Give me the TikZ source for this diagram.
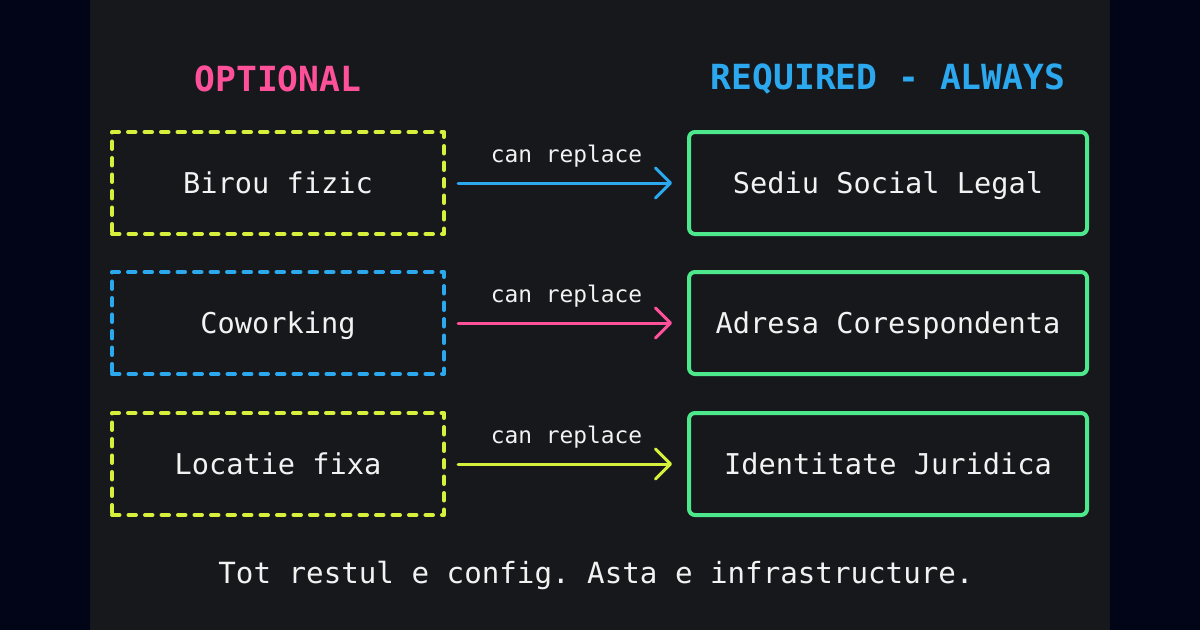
\documentclass[tikz,border=0pt]{standalone}
\usepackage{fontspec}
\setmonofont{DejaVu Sans Mono}
\usetikzlibrary{arrows.meta,positioning,calc}
\definecolor{night}{RGB}{2,4,24}
\definecolor{panel}{RGB}{22,24,28}
\definecolor{ink}{RGB}{242,242,242}
\definecolor{lime}{RGB}{214,240,60}
\definecolor{sky}{RGB}{44,168,238}
\definecolor{rose}{RGB}{255,80,154}
\definecolor{mint}{RGB}{78,232,140}
\tikzset{
  every picture/.style={line width=0.5pt, font=\ttfamily},
  opt/.style={draw, dash pattern=on 0.15cm off 0.18cm, line cap=round, line join=round, line width=0.08cm,
    minimum width=6.64cm, minimum height=2.04cm, text=ink, text depth=0pt,
    font=\ttfamily\fontsize{16.3}{19}\selectfont},
  req/.style={draw=mint, rounded corners=0.12cm, line width=0.08cm,
    minimum width=7.96cm, minimum height=2.04cm, text=ink, text depth=0pt,
    font=\ttfamily\fontsize{16.3}{19}\selectfont},
  swap/.style={-{Straight Barb[length=0.3cm,width=0.6cm,line cap=round,line join=round]},
    line width=0.06cm, line cap=round, shorten <=0.24cm, shorten >=0.3cm},
  lbl/.style={text=ink, text depth=0pt, font=\ttfamily\fontsize{13}{15}\selectfont},
  head/.style={font=\ttfamily\bfseries\fontsize{19.7}{23}\selectfont},
  note/.style={text=ink, font=\ttfamily\fontsize{16.6}{19}\selectfont},
}

\begin{document}
\begin{tikzpicture}
  % backdrop: dark margins, lighter panel in the middle
  \fill[night] (0,0) rectangle (24,-12.6);
  \fill[panel] (1.8,0) rectangle (22.2,-12.6);

  \node[opt, draw=lime] (b1) at (5.56,-3.66) {Birou fizic};
  \node[opt, draw=sky, below=0.68cm of b1] (b2) {Coworking};
  \node[opt, draw=lime, below=0.7cm of b2] (b3) {Locatie fixa};
  \node[req, right=4.82cm of b1] (s1) {Sediu Social Legal};
  \node[req, right=4.82cm of b2] (s2) {Adresa Corespondenta};
  \node[req, right=4.82cm of b3] (s3) {Identitate Juridica};

  \coordinate (top) at (0,-1.58);
  \node[head, text=rose] (hopt) at (b1 |- top) {OPTIONAL};
  \node[head, text=sky] (hreq) at (s1 |- top) {REQUIRED - ALWAYS};

  \draw[swap, sky] (b1) -- node[lbl, midway, yshift=0.58cm] {can replace} (s1);
  \draw[swap, rose] (b2) -- node[lbl, midway, yshift=0.58cm] {can replace} (s2);
  \draw[swap, lime] (b3) -- node[lbl, midway, yshift=0.58cm] {can replace} (s3);

  \node[note] (foot) at (11.92,-11.5) {Tot restul e config. Asta e infrastructure.};
\end{tikzpicture}
\end{document}
